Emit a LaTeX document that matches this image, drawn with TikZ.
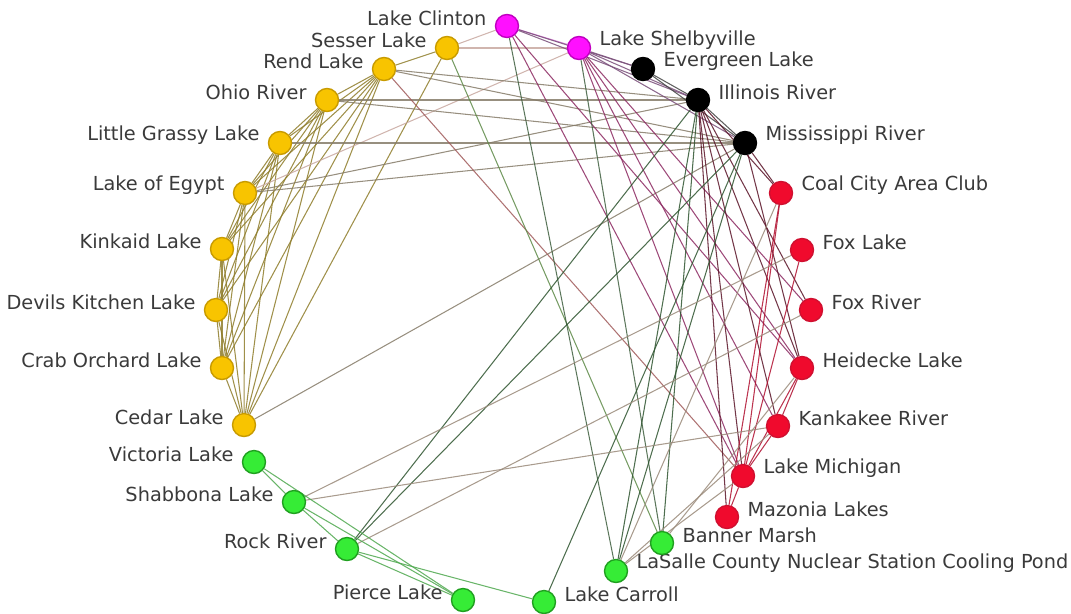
\documentclass[tikz,border=0pt]{standalone}
\usepackage{fontspec}
\setmainfont{DejaVu Sans}
\usetikzlibrary{backgrounds}

% vertex colours by community
\definecolor{nodeY}{HTML}{F8C400}\definecolor{nodeYd}{HTML}{C89B00}
\definecolor{nodeM}{HTML}{FF10FF}\definecolor{nodeMd}{HTML}{C000C0}
\definecolor{nodeK}{HTML}{000000}
\definecolor{nodeR}{HTML}{F00A2D}\definecolor{nodeRd}{HTML}{D01030}
\definecolor{nodeG}{HTML}{36EC36}\definecolor{nodeGd}{HTML}{20A020}
\definecolor{labgray}{HTML}{3A3A3A}
% edge colours: blends of the two end communities
\definecolor{eYY}{HTML}{8E7C2A}\definecolor{eYM}{HTML}{C8A8A0}
\definecolor{eYK}{HTML}{857B68}\definecolor{eYR}{HTML}{A05A5A}
\definecolor{eYG}{HTML}{5E8A48}\definecolor{eMM}{HTML}{D070D0}
\definecolor{eMK}{HTML}{7A4F7A}\definecolor{eMR}{HTML}{8C2A62}
\definecolor{eMG}{HTML}{3F5F3F}\definecolor{eKK}{HTML}{444444}
\definecolor{eKR}{HTML}{5A1428}\definecolor{eKG}{HTML}{2F5530}
\definecolor{eRR}{HTML}{B01030}\definecolor{eRG}{HTML}{9A8A7A}
\definecolor{eGG}{HTML}{4FA84F}

\begin{document}
\begin{tikzpicture}[x=0.02cm,y=-0.02cm,
  vtx/.style={circle,minimum size=0.46cm,inner sep=0pt,line width=0.8pt},
  yel/.style={vtx,fill=nodeY,draw=nodeYd},
  mag/.style={vtx,fill=nodeM,draw=nodeMd},
  blk/.style={vtx,fill=nodeK,draw=nodeK},
  red/.style={vtx,fill=nodeR,draw=nodeRd},
  grn/.style={vtx,fill=nodeG,draw=nodeGd},
  lab/.style={font=\fontsize{11}{13}\selectfont,text=labgray,inner sep=0pt},
  lr/.style={label={[lab,label distance=0.16cm,yshift=0.15cm]right:#1}},
  ll/.style={label={[lab,label distance=0.16cm,yshift=0.15cm]left:#1}},
  edge/.style={line width=0.6pt,opacity=0.85,draw=#1},
]
\useasboundingbox (0,0) rectangle (1071,613);

% southern lakes (yellow)
\node[yel,ll={Sesser Lake}]        (ses) at (447,48)  {};
\node[yel,ll={Rend Lake}]          (ren) at (384,69)  {};
\node[yel,ll={Ohio River}]         (ohi) at (327,100) {};
\node[yel,ll={Little Grassy Lake}] (lgl) at (280,143) {};
\node[yel,ll={Lake of Egypt}]      (egy) at (245,193) {};
\node[yel,ll={Kinkaid Lake}]       (kin) at (222,249) {};
\node[yel,ll={Devils Kitchen Lake}](dev) at (216,310) {};
\node[yel,ll={Crab Orchard Lake}]  (cra) at (222,368) {};
\node[yel,ll={Cedar Lake}]         (ced) at (244,425) {};
% central lakes (magenta)
\node[mag,ll={Lake Clinton}]       (cli) at (507,26)  {};
\node[mag,lr={Lake Shelbyville}]   (she) at (579,48)  {};
% rivers (black)
\node[blk,lr={Evergreen Lake}]     (eve) at (643,69)  {};
\node[blk,lr={Illinois River}]     (ill) at (698,100) {};
\node[blk,lr={Mississippi River}]  (mis) at (745,143) {};
% north-east (red)
\node[red,lr={Coal City Area Club}](coa) at (781,193) {};
\node[red,lr={Fox Lake}]           (fxl) at (802,250) {};
\node[red,lr={Fox River}]          (fxr) at (811,310) {};
\node[red,lr={Heidecke Lake}]      (hei) at (802,368) {};
\node[red,lr={Kankakee River}]     (kan) at (778,426) {};
\node[red,lr={Lake Michigan}]      (mic) at (743,476) {};
\node[red,lr={Mazonia Lakes}]      (maz) at (727,517) {};
% north-west (green)
\node[grn,ll={Victoria Lake}]      (vic) at (254,462) {};
\node[grn,ll={Shabbona Lake}]      (sha) at (294,502) {};
\node[grn,ll={Rock River}]         (roc) at (347,549) {};
\node[grn,ll={Pierce Lake}]        (pie) at (463,600) {};
\node[grn,lr={Lake Carroll}]       (car) at (544,602) {};
\node[grn,lr={LaSalle County Nuclear Station Cooling Pond}] (las) at (616,571) {};
\node[grn,lr={Banner Marsh}]       (ban) at (662,543) {};

\begin{pgfonlayer}{background}
  % within the southern group
  \foreach \a/\b in {ren/ohi,ren/lgl,ren/egy,ren/kin,ren/dev,ren/cra,ren/ced,
      ohi/lgl,ohi/egy,ohi/kin,ohi/dev,ohi/cra,ohi/ced,
      lgl/egy,lgl/kin,lgl/dev,lgl/cra,lgl/ced,
      egy/kin,egy/dev,egy/cra,egy/ced,
      kin/dev,kin/cra,kin/ced,dev/cra,dev/ced,cra/ced,
      ses/ren,ses/ced}
    \draw[edge=eYY] (\a) -- (\b);
  \foreach \a/\b in {ses/cli,ses/she,egy/she}
    \draw[edge=eYM] (\a) -- (\b);
  \foreach \a/\b in {ren/ill,ren/mis,ohi/ill,ohi/mis,lgl/mis,egy/ill,egy/mis,ced/mis}
    \draw[edge=eYK] (\a) -- (\b);
  \draw[edge=eYR] (ren) -- (mic);
  \draw[edge=eYG] (ses) -- (ban);
  % central lakes
  \draw[edge=eMM] (cli) -- (she);
  \foreach \a/\b in {cli/eve,cli/ill,she/eve,she/ill,she/mis}
    \draw[edge=eMK] (\a) -- (\b);
  \foreach \a/\b in {cli/mic,cli/hei,she/mic,she/kan,she/hei,she/fxr}
    \draw[edge=eMR] (\a) -- (\b);
  \foreach \a/\b in {cli/las,she/ban}
    \draw[edge=eMG] (\a) -- (\b);
  % rivers
  \foreach \a/\b in {eve/ill,ill/mis,eve/mis}
    \draw[edge=eKK] (\a) -- (\b);
  \foreach \a/\b in {ill/coa,mis/coa,ill/fxr,ill/hei,ill/kan,ill/mic,ill/maz,mis/hei}
    \draw[edge=eKR] (\a) -- (\b);
  \foreach \a/\b in {ill/las,ill/ban,ill/roc,mis/roc,mis/car,mis/las}
    \draw[edge=eKG] (\a) -- (\b);
  % north-east group
  \foreach \a/\b in {coa/mic,coa/maz,fxl/mic,hei/kan,hei/mic,kan/mic,mic/maz}
    \draw[edge=eRR] (\a) -- (\b);
  \foreach \a/\b in {sha/kan,sha/fxl,roc/fxr,las/coa,las/kan,las/mic,ban/hei}
    \draw[edge=eRG] (\a) -- (\b);
  % north-west group
  \foreach \a/\b in {vic/pie,vic/sha,sha/roc,sha/pie,roc/pie,roc/car}
    \draw[edge=eGG] (\a) -- (\b);
\end{pgfonlayer}
\end{tikzpicture}
\end{document}
